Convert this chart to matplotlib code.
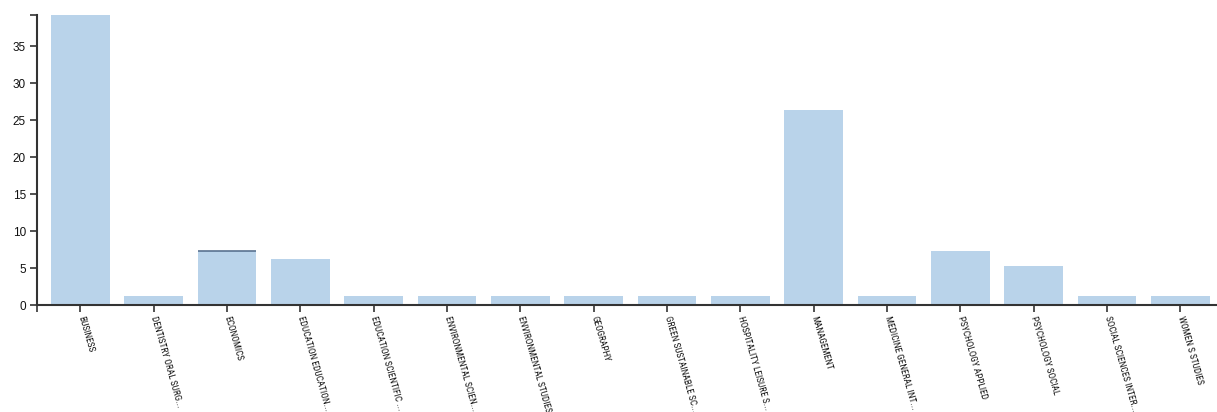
import matplotlib
matplotlib.use("Agg")

import matplotlib.pyplot as plt
from matplotlib import font_manager
from matplotlib.font_manager import FontProperties

CATEGORIES = [
  'BUSINESS', 'DENTISTRY ORAL SURG...', 'ECONOMICS', 'EDUCATION EDUCATION...',
  'EDUCATION SCIENTIFIC ...', 'ENVIRONMENTAL SCIEN...', 'ENVIRONMENTAL STUDIES',
  'GEOGRAPHY', 'GREEN SUSTAINABLE SC...', 'HOSPITALITY LEISURE S...',
  'MANAGEMENT', 'MEDICINE GENERAL INT...', 'PSYCHOLOGY APPLIED',
  'PSYCHOLOGY SOCIAL', 'SOCIAL SCIENCES INTER...', 'WOMEN S STUDIES',
]
COUNTS = [39.2, 1.25, 7.3, 6.2, 1.25, 1.25, 1.25, 1.25, 1.25, 1.25,
          26.3, 1.25, 7.3, 5.3, 1.25, 1.25]
Y_TICKS = [0, 5, 10, 15, 20, 25, 30, 35]

BAR_COLOR = '#b9d3ea'
AXIS_COLOR = '#333333'


def narrow_font():
  """Finds a condensed sans font if one is installed, else a plain one."""
  best = None
  for entry in font_manager.fontManager.ttflist:
    if entry.style != 'normal' or entry.weight not in (400, 'normal'):
      continue
    name = entry.name
    squeezed = ('Narrow' in name or 'Condensed' in name or
                str(entry.stretch) in ('condensed', 'semi-condensed',
                                       'extra-condensed'))
    if squeezed and not 'Mono' in name and not 'Serif' in name:
      best = entry.fname
      if 'Liberation' in name or 'Roboto' in name:
        break
  if best:
    return FontProperties(fname=best)
  return FontProperties(family='Liberation Sans')


def draw_graph():
  """Draws the category bar chart."""
  figure = plt.figure(figsize=(12.17, 4.12), dpi=100)
  axs = figure.add_axes([37 / 1217, 107 / 412, 1 - 37 / 1217, 290 / 412])

  # size the labels so BUSINESS is about 37 px long, as in the original
  label_font = narrow_font()
  label_font.set_size(10)
  probe = figure.text(0, 0, 'BUSINESS', fontproperties=label_font)
  width = probe.get_window_extent(figure.canvas.get_renderer()).width
  probe.remove()
  label_font.set_size(10 * 37.5 / width)

  positions = list(range(len(CATEGORIES)))
  axs.bar(positions, COUNTS, width=0.8, color=BAR_COLOR, linewidth=0)
  # economics has a thin dark cap in the original
  econ = CATEGORIES.index('ECONOMICS')
  axs.plot([econ - 0.4, econ + 0.4], [COUNTS[econ], COUNTS[econ]],
           color='#5a7290', linewidth=1.2, solid_capstyle='butt')

  x_left = -0.59
  axs.set_xlim(x_left, len(CATEGORIES) - 0.5)
  axs.set_ylim(0, max(COUNTS))

  # outer ticks at the ends of the axis lines, no labels
  axs.set_yticks(Y_TICKS + [max(COUNTS)])
  axs.set_yticklabels([str(t) for t in Y_TICKS] + [''], fontsize=8.5,
                      family=['Liberation Sans', 'DejaVu Sans'])
  axs.set_xticks(positions + [x_left])
  axs.set_xticklabels(CATEGORIES + [''], rotation=-74, ha='left', va='center',
                      rotation_mode='anchor', fontproperties=label_font)

  for side in ('top', 'right'):
    axs.spines[side].set_visible(False)
  for side in ('left', 'bottom'):
    axs.spines[side].set_color(AXIS_COLOR)
    axs.spines[side].set_linewidth(1.5)
  axs.tick_params(axis='both', colors=AXIS_COLOR, length=5, width=1.2)
  axs.tick_params(axis='x', pad=3)
  axs.tick_params(axis='y', pad=3)
  for label in axs.get_xticklabels() + axs.get_yticklabels():
    label.set_color('#111111')

  plt.savefig('out.png', dpi=100)
  plt.close()


if __name__ == "__main__":
  draw_graph()
